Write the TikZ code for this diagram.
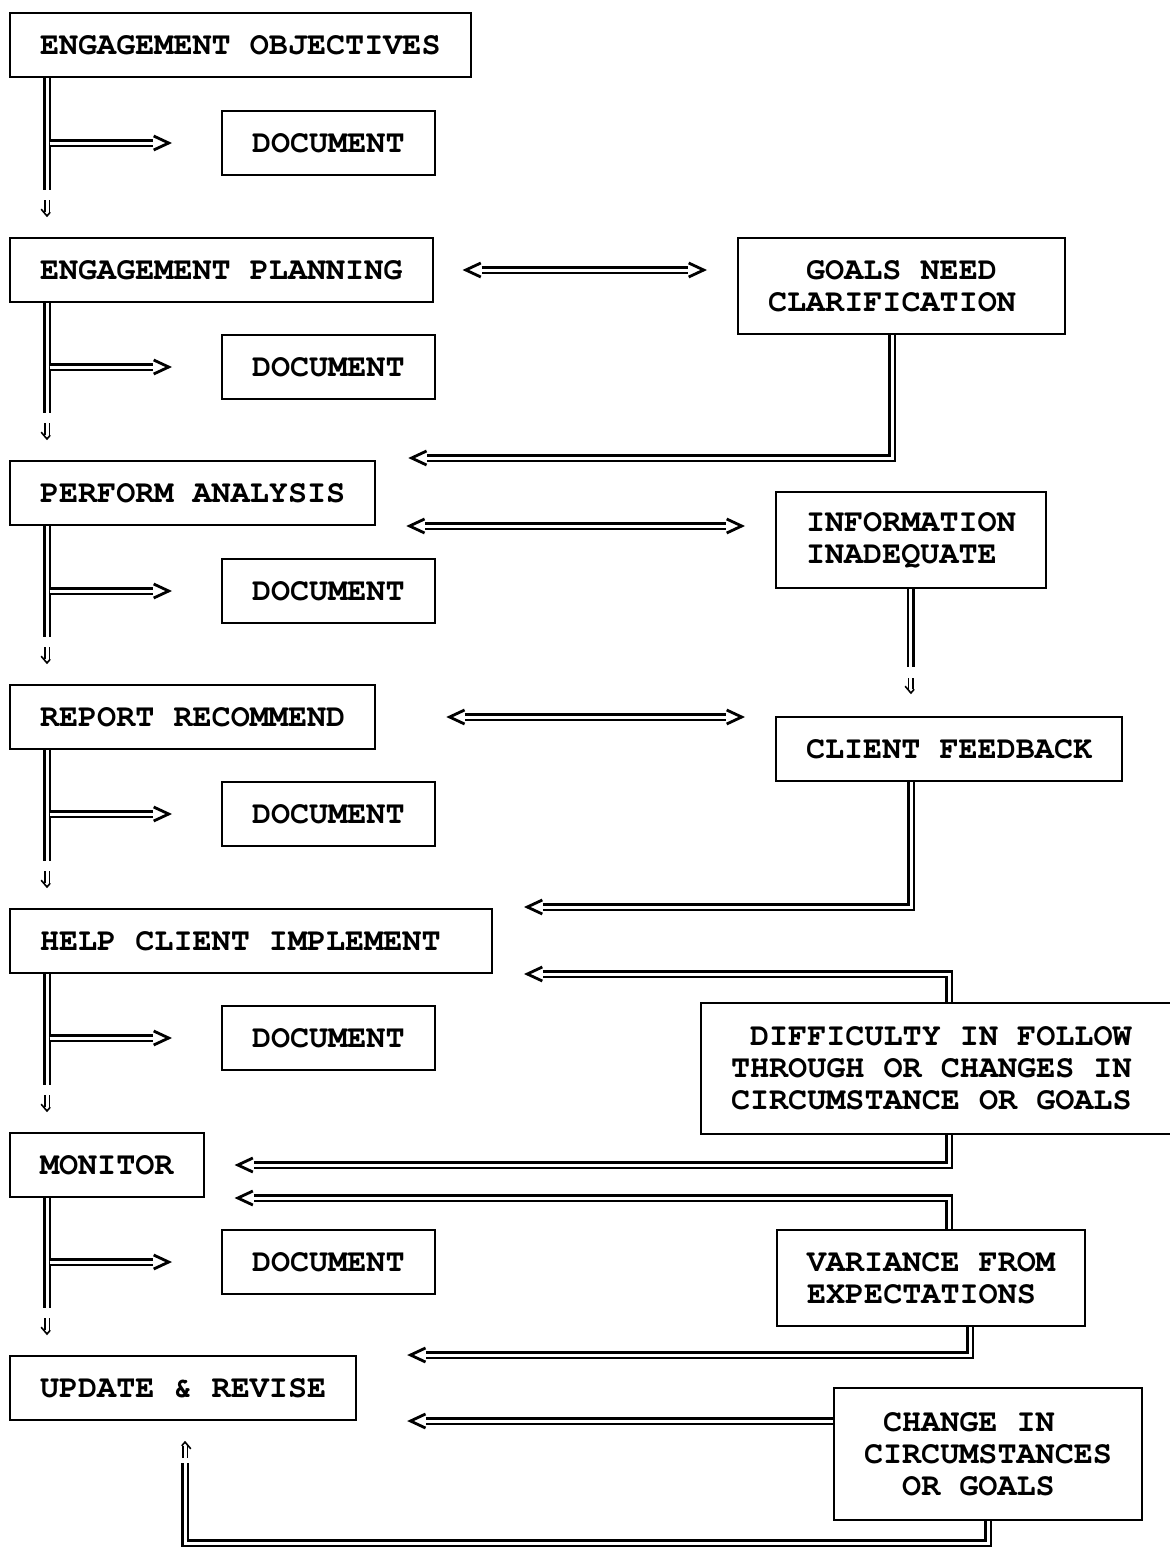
\documentclass[tikz,border=0pt]{standalone}
\usepackage[T1]{fontenc}
\usetikzlibrary{arrows.meta,decorations.markings}

\begin{document}
\begin{tikzpicture}[
  x=0.5pt, y=-0.5pt,
  font=\fontencoding{T1}\fontfamily{pcr}\fontseries{b}\fontsize{15.9}{16}\selectfont,
  box/.style={draw, line width=1pt, inner xsep=15pt, inner ysep=0pt, minimum height=32pt, anchor=north west},
  box2/.style={box, align=left, minimum height=48pt},
  box3/.style={box, align=left, minimum height=65.5pt},
  dbl/.style={draw, double, line width=1.1pt, double distance=1.5pt},
  arr/.style={shorten >=9.5pt, postaction={tips=true, shorten >=0pt, /utils/exec={\pgfsetinnerlinewidth{0pt}},
    -{Straight Barb[length=7.5pt, width=7pt, line width=1.4pt]}}},
  arrb/.style={shorten >=9.5pt, shorten <=9.5pt, postaction={tips=true, shorten >=0pt, shorten <=0pt,
    /utils/exec={\pgfsetinnerlinewidth{0pt}},
    {Straight Barb[length=7.5pt, width=7pt, line width=1.4pt]}-{Straight Barb[length=7.5pt, width=7pt, line width=1.4pt]}}},
  dn/.style={draw, double, line width=0.7pt, double distance=1.5pt, shorten >=2pt, postaction={decorate},
    decoration={markings, mark=at position 1 with {\draw[line width=0.8pt] (-3.4pt,-2.9pt) -- (0pt,0pt) -- (-3.4pt,2.9pt);}}}
]
\useasboundingbox (0,0) rectangle (1169,1548);

\node[box] (obj)  at (9,12)   {ENGAGEMENT OBJECTIVES};
\node[box] (plan) at (9,237)  {ENGAGEMENT PLANNING};
\node[box] (anal) at (9,460)  {PERFORM ANALYSIS};
\node[box] (rep)  at (9,684)  {REPORT RECOMMEND};
\node[box] (help) at (9,908)  {\makebox[211pt][l]{HELP CLIENT IMPLEMENT}};
\node[box] (mon)  at (9,1132) {MONITOR};
\node[box] (upd)  at (9,1355) {UPDATE \& REVISE};

\node[box] (doc1) at (221,110)  {DOCUMENT};
\node[box] (doc2) at (221,334)  {DOCUMENT};
\node[box] (doc3) at (221,558)  {DOCUMENT};
\node[box] (doc4) at (221,781)  {DOCUMENT};
\node[box] (doc5) at (221,1005) {DOCUMENT};
\node[box] (doc6) at (221,1229) {DOCUMENT};

\node[box2] (goals) at (737,237) {\hphantom{XX}GOALS NEED\\\makebox[133.5pt][l]{CLARIFICATION}};
\node[box2] (info)  at (775,491) {INFORMATION\\INADEQUATE};
\node[box]  (fb)    at (775,716) {CLIENT FEEDBACK};
\node[box3] (diff)  at (700,1002)
  {\hphantom{X}DIFFICULTY IN FOLLOW\\\makebox[206pt][l]{THROUGH OR CHANGES IN}\\CIRCUMSTANCE OR GOALS};
\node[box2] (var)   at (776,1229) {VARIANCE FROM\\EXPECTATIONS};
\node[box3, minimum height=66pt] (chg) at (833,1387)
  {\hphantom{X}CHANGE IN\\CIRCUMSTANCES\\\hphantom{XX}OR GOALS};

\coordinate (trunk) at (47,0);
\coordinate (loop) at (185,1543);

\draw[dbl] (trunk |- obj.south) -- ([yshift=23.5pt]trunk |- plan.north);
\draw[dbl, arr] ([xshift=1.3pt]trunk |- doc1.west) -- ([xshift=-24.5pt]doc1.west);
\draw[dn] ([yshift=18.5pt]trunk |- plan.north) -- ([yshift=10.5pt]trunk |- plan.north);

\draw[dbl] (trunk |- plan.south) -- ([yshift=23.5pt]trunk |- anal.north);
\draw[dbl, arr] ([xshift=1.3pt]trunk |- doc2.west) -- ([xshift=-24.5pt]doc2.west);
\draw[dn] ([yshift=18.5pt]trunk |- anal.north) -- ([yshift=10.5pt]trunk |- anal.north);

\draw[dbl] (trunk |- anal.south) -- ([yshift=23.5pt]trunk |- rep.north);
\draw[dbl, arr] ([xshift=1.3pt]trunk |- doc3.west) -- ([xshift=-24.5pt]doc3.west);
\draw[dn] ([yshift=18.5pt]trunk |- rep.north) -- ([yshift=10.5pt]trunk |- rep.north);

\draw[dbl] (trunk |- rep.south) -- ([yshift=23.5pt]trunk |- help.north);
\draw[dbl, arr] ([xshift=1.3pt]trunk |- doc4.west) -- ([xshift=-24.5pt]doc4.west);
\draw[dn] ([yshift=18.5pt]trunk |- help.north) -- ([yshift=10.5pt]trunk |- help.north);

\draw[dbl] (trunk |- help.south) -- ([yshift=23.5pt]trunk |- mon.north);
\draw[dbl, arr] ([xshift=1.3pt]trunk |- doc5.west) -- ([xshift=-24.5pt]doc5.west);
\draw[dn] ([yshift=18.5pt]trunk |- mon.north) -- ([yshift=10.5pt]trunk |- mon.north);

\draw[dbl] (trunk |- mon.south) -- ([yshift=23.5pt]trunk |- upd.north);
\draw[dbl, arr] ([xshift=1.3pt]trunk |- doc6.west) -- ([xshift=-24.5pt]doc6.west);
\draw[dn] ([yshift=18.5pt]trunk |- upd.north) -- ([yshift=10.5pt]trunk |- upd.north);

\draw[dbl, arrb] ([xshift=14.5pt]plan.east) -- ([xshift=-15pt]plan.east -| goals.west);
\draw[dbl, arr] ([xshift=-4.75pt]goals.south) |- ([xshift=16pt, yshift=1pt]anal.north east);
\draw[dbl, arrb] ([xshift=15pt]anal.south east) -- ([xshift=-15pt]anal.south east -| info.west);
\draw[dbl] (info.south) -- ([yshift=24.5pt]info.south |- fb.north);
\draw[dn] ([yshift=19pt]info.south |- fb.north) -- ([yshift=11.5pt]info.south |- fb.north);
\draw[dbl, arrb] ([xshift=35pt]rep.east) -- ([xshift=-15pt]rep.east -| fb.west);
\draw[dbl, arr] ([xshift=-19pt]fb.south) |- ([xshift=15.5pt, yshift=0.5pt]help.north east);
\draw[dbl, arr] ([xshift=6pt]diff.north) |- ([xshift=15.5pt]help.south east);
\draw[dbl, arr] ([xshift=6pt]diff.south) |- ([xshift=15pt]mon.east);
\draw[dbl, arr] ([xshift=9pt]var.north) |- ([xshift=15pt]mon.south east);
\draw[dbl, arr] ([xshift=19.5pt]var.south) |- ([xshift=25pt]upd.north east);
\draw[dbl, arr] (chg.west |- upd.south east) -- ([xshift=25pt]upd.south east);
\draw[dbl] (chg.south) |- (loop) -- ([yshift=-21pt]loop |- upd.south);
\draw[dn] ([yshift=-18.5pt]loop |- upd.south) -- ([yshift=-10.5pt]loop |- upd.south);
\end{tikzpicture}
\end{document}
